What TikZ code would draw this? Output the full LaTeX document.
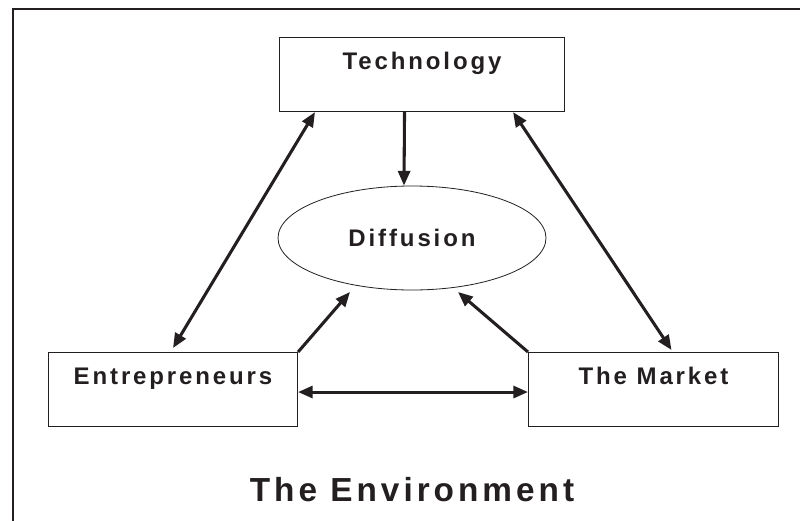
\documentclass[tikz,border=0pt]{standalone}
\usepackage{fontspec}
\usetikzlibrary{arrows.meta,shapes.geometric}
\newfontfamily\lblfont[LetterSpace = 12]{Liberation Sans}
\definecolor{ink}{RGB}{35,31,32}
\begin{document}
\begin{tikzpicture}[x = 0.75pt, y = -0.75pt,
  >= {Triangle[length = 11pt, width = 9pt]},
  boxnode/.style = {draw = ink, line width = 0.8pt, text = ink, inner sep = 0pt, text height = 24pt, text depth = 31.5pt, anchor = north west, font = \lblfont\bfseries\fontsize{18}{21}\selectfont},
  link/.style = {color = ink, line width = 2.3pt}]
\pgfmathsetlengthmacro\unit{0.75pt}
\useasboundingbox (0,0) rectangle (800,521);
\draw [color = ink, line width = 1.1pt] (13,521) -- (13,9) -- (800,9);
\node [boxnode, minimum width = 285*\unit] (tech) at (279,37) {Technology};
\node [boxnode, minimum width = 249*\unit] (ent) at (48,352) {Entrepreneurs};
\node [boxnode, minimum width = 250*\unit] (market) at (528,352) {The Market};
\node [ellipse, draw = ink, line width = 0.6pt, text = ink, inner sep = 0pt, minimum width = 268*\unit, minimum height = 104*\unit, font = \lblfont\bfseries\fontsize{18}{21}\selectfont] (diff) at (412,238) {Diffusion};
\node [text = ink, font = \lblfont\bfseries\fontsize{25}{29}\selectfont] (env) at (412,490) {The Environment};
\draw [link, ->] ([xshift = -17.5*\unit]tech.south) -- ([xshift = -8*\unit]diff.north);
\draw [link, <->] ([xshift = 36*\unit]tech.south west) -- ([yshift = 4*\unit]ent.north);
\draw [link, <->] ([xshift = -52*\unit]tech.south east) -- ([xshift = 18*\unit, yshift = 2*\unit]market.north);
\draw [link, ->] (ent.north east) -- ([xshift = -62*\unit, yshift = -54*\unit]diff.center);
\draw [link, ->] (market.north west) -- ([xshift = 46*\unit, yshift = -54*\unit]diff.center);
\draw [link, <->] ([yshift = -2.5*\unit]ent.east) -- ([yshift = -2.5*\unit]market.west);
\end{tikzpicture}
\end{document}
